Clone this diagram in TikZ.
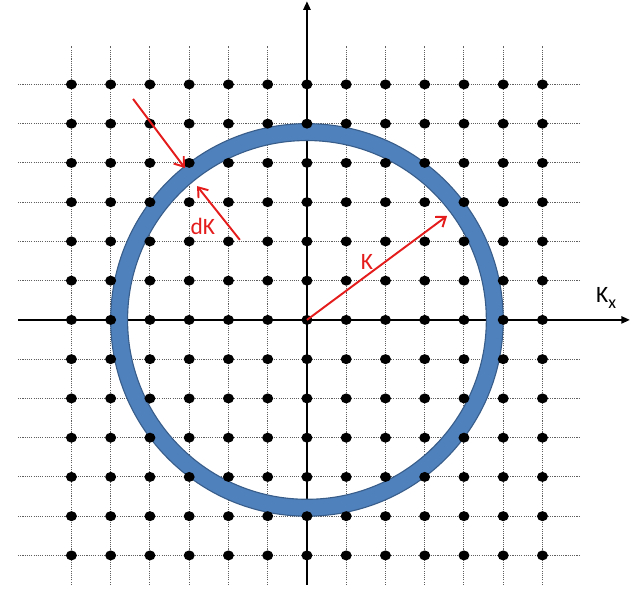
\documentclass[tikz,border=0pt]{standalone}
\usepackage{fontspec}
\setmainfont{Carlito}
\usetikzlibrary{arrows.meta}
\definecolor{anillo}{RGB}{79,129,189}
\definecolor{borde}{RGB}{56,93,138}
\definecolor{rojo}{RGB}{228,28,28}
\definecolor{grisr}{RGB}{95,95,95}
\tikzset{
  rej/.style={draw=grisr, line width=0.7pt, dash pattern=on 0.8pt off 0.8pt},
  eje/.style={-{Triangle[length=2.2mm,width=1.8mm]}, line width=1.5pt, black},
  punto/.style={fill=black},
  fr/.style={-{Straight Barb[length=2.2mm,width=3.2mm]}, line width=1.4pt, rojo},
  et/.style={font=\fontsize{17}{17}\selectfont, inner sep=1pt},
}

\begin{document}
\begin{tikzpicture}
  \useasboundingbox (-7.82,-6.85) rectangle (8.23,8.15);
  % dotted lattice lines
  \foreach \i in {-6,...,6} {
    \draw[rej] (-7.36,\i) -- (6.96,\i);
    \draw[rej] (\i,-6.75) -- (\i,6.98);
  }
  % axes
  \coordinate (xizq) at (-7.36,0);
  \coordinate (xder) at (8.23,0);
  \coordinate (yinf) at (0,-6.75);
  \coordinate (ysup) at (0,8.12);
  \draw[eje] (xizq) -- (xder);
  \draw[eje] (yinf) -- (ysup);
  % shell of width dK
  \coordinate (o) at (0,0);
  \fill[anillo, even odd rule] (o) circle (5.0) (o) circle (4.57);
  \draw[borde, line width=0.8pt] (o) circle (5.0) (o) circle (4.57);
  % lattice points
  \foreach \i in {-6,...,6}
    \foreach \j in {-6,...,6}
      \fill[punto] (\i,\j) ellipse (0.14 and 0.127);
  % red arrows
  \coordinate (a1) at (-4.43,5.63);
  \coordinate (b1) at (-3.11,3.87);
  \coordinate (a2) at (-1.71,2.04);
  \coordinate (b2) at (-2.80,3.41);
  \coordinate (b3) at (3.57,2.65);
  \draw[fr] (a1) -- (b1);
  \draw[fr] (a2) -- (b2);
  \draw[fr] (o) -- (b3);
  \node[et, text=rojo] (dk) at (-2.65,2.37) {dK};
  \node[et, text=rojo] (k) at (1.53,1.48) {K};
  \node[et] (kx) at (7.62,0.55) {K\raisebox{-0.55ex}{\fontsize{13}{13}\selectfont x}};
\end{tikzpicture}
\end{document}
